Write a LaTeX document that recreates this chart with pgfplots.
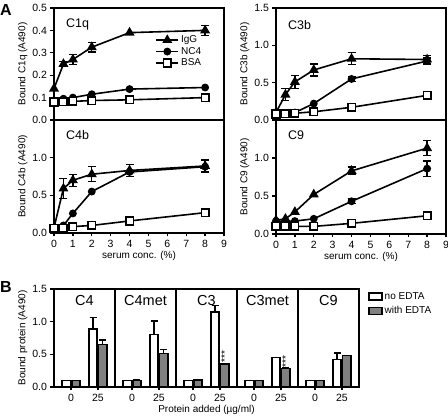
\documentclass[border=0pt]{standalone}
\usepackage{fontspec}
\setmainfont{Liberation Sans}
\usepackage{pgfplots}
\pgfplotsset{compat=1.18}
\definecolor{bargrey}{RGB}{128,128,128}
\tikzset{ptitle/.style={font=\fontsize{12.5}{13}\selectfont, anchor=west},
  glabel/.style={font=\fontsize{14.5}{15}\selectfont}}
\pgfplotsset{
  base/.style={
    scale only axis,
    axis line style={line width=1.5pt},
    tick style={line width=1.3pt, black},
    major tick length=3.5pt,
    tick align=outside, xtick pos=left, ytick pos=left,
    /pgf/number format/assume math mode=true,
    font=\fontsize{10}{11}\selectfont,
    ticklabel style={font=\fontsize{10.5}{11}\selectfont},
    yticklabel style={/pgf/number format/.cd, fixed, fixed zerofill, precision=1},
    every axis plot/.append style={line width=1.6pt, black},
    ylabel style={yshift=-2pt},
  },
  panel/.style={base, width=170pt, xmin=0, xmax=9, ymin=0,
    error bars/error bar style={line width=1.3pt},
    error bars/error mark options={rotate=90, mark size=4pt, line width=1.3pt}},
  igg/.style={mark=triangle*, mark size=4.2pt, mark options={solid, fill=black}},
  nc4/.style={mark=*, mark size=3.1pt, mark options={solid, fill=black}},
  bsa/.style={mark=square*, mark size=3.8pt, mark options={solid, fill=white}},
  errp/.style={draw=none, mark=none, forget plot, error bars/.cd, y dir=both, y explicit},
}
\begin{document}
\begin{tikzpicture}
\path[use as bounding box] (0,0) rectangle (448pt,418pt);
\node[font=\fontsize{16}{17}\selectfont\bfseries] at (6pt,408pt) {A};
\node[font=\fontsize{16}{17}\selectfont\bfseries] at (6pt,131pt) {B};

% C1q
\begin{axis}[panel, at={(54pt,298pt)}, anchor=south west, height=112pt,
  ymax=0.5, ytick={0,0.1,0.2,0.3,0.4,0.5}, xtick=\empty,
  ylabel={Bound C1q (A490)},
  legend style={at={(0.59,0.78)}, anchor=north west, draw=none, fill=none,
    font=\fontsize{10}{11}\selectfont, row sep=-1pt, inner sep=1pt},
  legend cell align=left,
  legend image code/.code={\draw[#1, mark repeat=2, mark phase=2] plot coordinates {(0pt,0pt) (11pt,0pt) (22pt,0pt)};}]
\addplot[errp] coordinates {(0.5,0.25) +- (0,0.012) (1,0.27) +- (0,0.022) (2,0.325) +- (0,0.022) (8,0.40) +- (0,0.022)};
\addplot[igg] coordinates {(0,0.14) (0.5,0.25) (1,0.27) (2,0.325) (4,0.39) (8,0.40)};
\addplot[nc4] coordinates {(0,0.085) (0.5,0.095) (1,0.10) (2,0.115) (4,0.138) (8,0.145)};
\addplot[bsa] coordinates {(0,0.08) (0.5,0.082) (1,0.083) (2,0.087) (4,0.09) (8,0.10)};
\legend{IgG, NC4, BSA}
\node[ptitle] at (rel axis cs:0.05,0.85) {C1q};
\end{axis}

% C4b
\begin{axis}[panel, at={(54pt,185pt)}, anchor=south west, height=113pt,
  ymax=1.5, ytick={0,0.5,1.0}, xtick={0,1,...,9},
  ylabel={Bound C4b (A490)}, xlabel={serum conc. (\%)}, xlabel style={yshift=3pt}]
\addplot[errp] coordinates {(0.5,0.59) +- (0,0.13) (1,0.70) +- (0,0.08) (2,0.78) +- (0,0.10) (4,0.83) +- (0,0.08) (8,0.89) +- (0,0.08)};
\addplot[igg] coordinates {(0,0.07) (0.5,0.59) (1,0.70) (2,0.78) (4,0.83) (8,0.89)};
\addplot[nc4] coordinates {(0,0.065) (0.5,0.10) (1,0.26) (2,0.55) (4,0.81) (8,0.88)};
\addplot[bsa] coordinates {(0,0.06) (0.5,0.065) (1,0.085) (2,0.10) (4,0.16) (8,0.27)};
\node[ptitle] at (rel axis cs:0.05,0.87) {C4b};
\end{axis}

% C3b
\begin{axis}[panel, at={(276pt,298pt)}, anchor=south west, height=112pt,
  ymax=1.5, ytick={0,0.5,1.0,1.5}, xtick=\empty,
  ylabel={Bound C3b (A490)}]
\addplot[errp] coordinates {(0.5,0.34) +- (0,0.08) (1,0.51) +- (0,0.09) (2,0.67) +- (0,0.08) (4,0.82) +- (0,0.08) (8,0.81) +- (0,0.05)};
\addplot[errp] coordinates {(4,0.55) +- (0,0.03) (8,0.79) +- (0,0.04)};
\addplot[igg] coordinates {(0,0.10) (0.5,0.34) (1,0.51) (2,0.67) (4,0.82) (8,0.81)};
\addplot[nc4] coordinates {(0,0.09) (0.5,0.09) (1,0.10) (2,0.22) (4,0.55) (8,0.79)};
\addplot[bsa] coordinates {(0,0.08) (0.5,0.085) (1,0.09) (2,0.11) (4,0.17) (8,0.33)};
\node[ptitle] at (rel axis cs:0.05,0.85) {C3b};
\end{axis}

% C9
\begin{axis}[panel, at={(276pt,184pt)}, anchor=south west, height=114pt,
  ymax=1.5, ytick={0,0.5,1.0}, xtick={0,1,...,9},
  ylabel={Bound C9 (A490)}, xlabel={serum conc. (\%)}, xlabel style={yshift=3pt}]
\addplot[errp] coordinates {(4,0.83) +- (0,0.05) (8,1.13) +- (0,0.10)};
\addplot[errp] coordinates {(4,0.43) +- (0,0.03) (8,0.86) +- (0,0.10)};
\addplot[igg] coordinates {(0,0.18) (0.5,0.20) (1,0.29) (2,0.52) (4,0.83) (8,1.13)};
\addplot[nc4] coordinates {(0,0.17) (0.5,0.17) (1,0.17) (2,0.20) (4,0.43) (8,0.86)};
\addplot[bsa] coordinates {(0,0.10) (0.5,0.10) (1,0.10) (2,0.10) (4,0.14) (8,0.24)};
\node[ptitle] at (rel axis cs:0.05,0.87) {C9};
\end{axis}

% Panel B
\begin{axis}[base, at={(54pt,31pt)}, anchor=south west, width=305pt, height=98pt,
  xmin=0, xmax=25, ymin=0, ymax=1.5, ytick={0,0.5,1.0,1.5},
  xtick={1.4,3.6,6.4,8.6,11.4,13.6,16.4,18.6,21.4,23.6},
  xticklabels={0,25,0,25,0,25,0,25,0,25},
  ylabel={Bound protein (A490)}, xlabel={Protein added (\textmu g/ml)}, xlabel style={yshift=3pt},
  ybar, bar width=0.66, bar shift=0pt,
  error bars/error bar style={line width=1.3pt},
  error bars/error mark options={rotate=90, mark size=3.5pt, line width=1.3pt},
  legend style={at={(1.03,0.99)}, anchor=north west, draw=none, fill=none,
    font=\fontsize{10}{11}\selectfont, row sep=2pt, inner sep=0pt},
  legend cell align=left,
  legend image code/.code={\draw[#1, line width=1.4pt] (0pt,-3.5pt) rectangle (13pt,3.5pt);}]
\addplot[fill=white, draw=black, line width=1.4pt, error bars/.cd, y dir=plus, y explicit] coordinates {
  (1.0,0.10) (3.2,0.89) +- (0,0.17)
  (6.0,0.10) (8.2,0.80) +- (0,0.21)
  (11.0,0.10) (13.2,1.15) +- (0,0.10)
  (16.0,0.10) (18.2,0.45) +- (0,0.005)
  (21.0,0.10) (23.2,0.42) +- (0,0.10)};
\addplot[fill=bargrey, draw=black, line width=1.4pt, error bars/.cd, y dir=plus, y explicit] coordinates {
  (1.8,0.10) (4.0,0.65) +- (0,0.07)
  (6.8,0.10) +- (0,0.02) (9.0,0.51) +- (0,0.06)
  (11.8,0.11) (14.0,0.35)
  (16.8,0.10) (19.0,0.28) +- (0,0.01)
  (21.8,0.10) (24.0,0.48)};
\legend{no EDTA, with EDTA}
\draw[line width=1.5pt] (axis cs:5,0) -- (axis cs:5,1.5);
\draw[line width=1.5pt] (axis cs:10,0) -- (axis cs:10,1.5);
\draw[line width=1.5pt] (axis cs:15,0) -- (axis cs:15,1.5);
\draw[line width=1.5pt] (axis cs:20,0) -- (axis cs:20,1.5);
\node[glabel] at (axis cs:2.5,1.32) {C4};
\node[glabel] at (axis cs:7.5,1.32) {C4met};
\node[glabel] at (axis cs:12.5,1.32) {C3};
\node[glabel] at (axis cs:17.5,1.32) {C3met};
\node[glabel] at (axis cs:22.5,1.32) {C9};
\node[font=\fontsize{10}{11}\selectfont, rotate=90, anchor=west, inner sep=0.5pt] at (axis cs:14.0,0.36) {***};
\node[font=\fontsize{10}{11}\selectfont, rotate=90, anchor=west, inner sep=0.5pt] at (axis cs:19.0,0.29) {***};
\end{axis}
\end{tikzpicture}
\end{document}
